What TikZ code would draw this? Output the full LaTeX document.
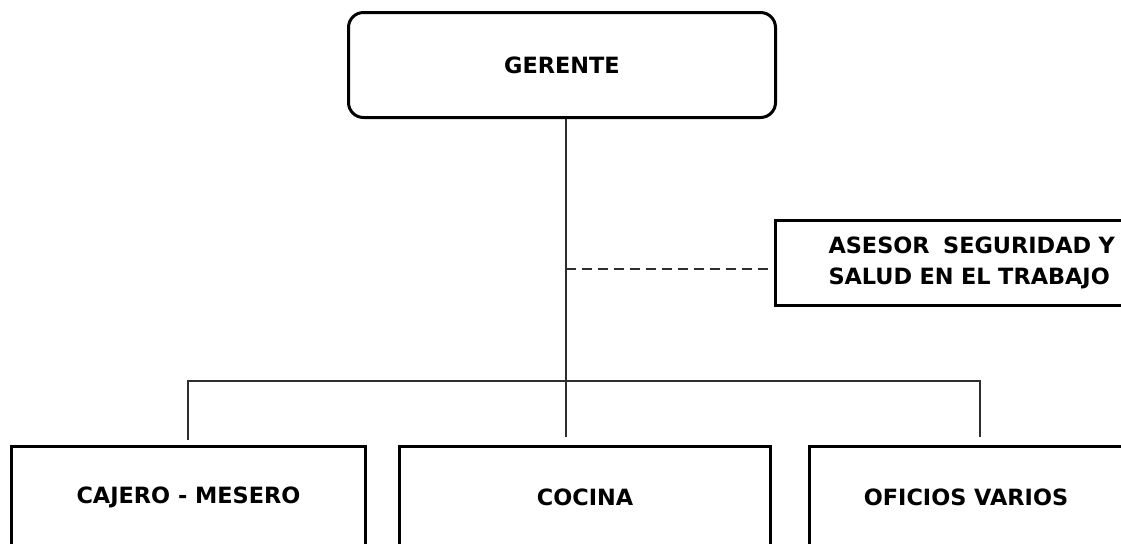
\documentclass[tikz,border=0pt]{standalone}
\usepackage{fontspec}
\setmainfont{DejaVu Sans}
\definecolor{linea}{rgb}{0.18,0.18,0.18}

\tikzset{
    cargo/.style={draw=black, line width=1.5pt, minimum width=#1, inner sep=0pt,
        font=\fontsize{11.2}{15.5}\selectfont\bfseries},
    enlace/.style={draw=linea, line width=1.1pt},
}

\begin{document}
\begin{tikzpicture}[x=0.5pt, y=-0.5pt]
            \useasboundingbox (0,0) rectangle (1121,543);

            % cargos
            \node[cargo=213.5pt, minimum height=52.5pt, rounded corners=7.5pt] (gerente) at (562,65) {GERENTE};
            \node[cargo=0pt, minimum height=42.5pt, anchor=west, align=left, text width=150pt, inner xsep=26.75pt] (asesor) at (773.5,263) {ASESOR\hspace{0.6em}SEGURIDAD Y\\SALUD EN EL TRABAJO};
            \node[cargo=177pt, minimum height=50.5pt] (cajero) at (188.5,497) {CAJERO - MESERO};
            \node[cargo=185.5pt, minimum height=50.5pt] (cocina) at (585,497) {COCINA};
            \node[cargo=156.5pt, minimum height=50.5pt] (oficios) at (966,497) {OFICIOS VARIOS};

            % puntos de union
            \coordinate (tronco) at (566,381);
            \coordinate (izq) at (187.7,381);
            \coordinate (der) at (980,381);
            \coordinate (guion) at (566,269);

            % lineas
            \draw[enlace, shorten >=4.25pt] (gerente.south -| tronco) -- (tronco |- cocina.north);
            \draw[enlace, shorten <=2.75pt, shorten >=4.25pt] (izq |- cajero.north) -- (izq) -- (der) -- (der |- oficios.north);
            \draw[enlace, line width=1.3pt, dash pattern=on 5pt off 3pt] (guion) -- (guion -| asesor.west);
        \end{tikzpicture}
\end{document}
